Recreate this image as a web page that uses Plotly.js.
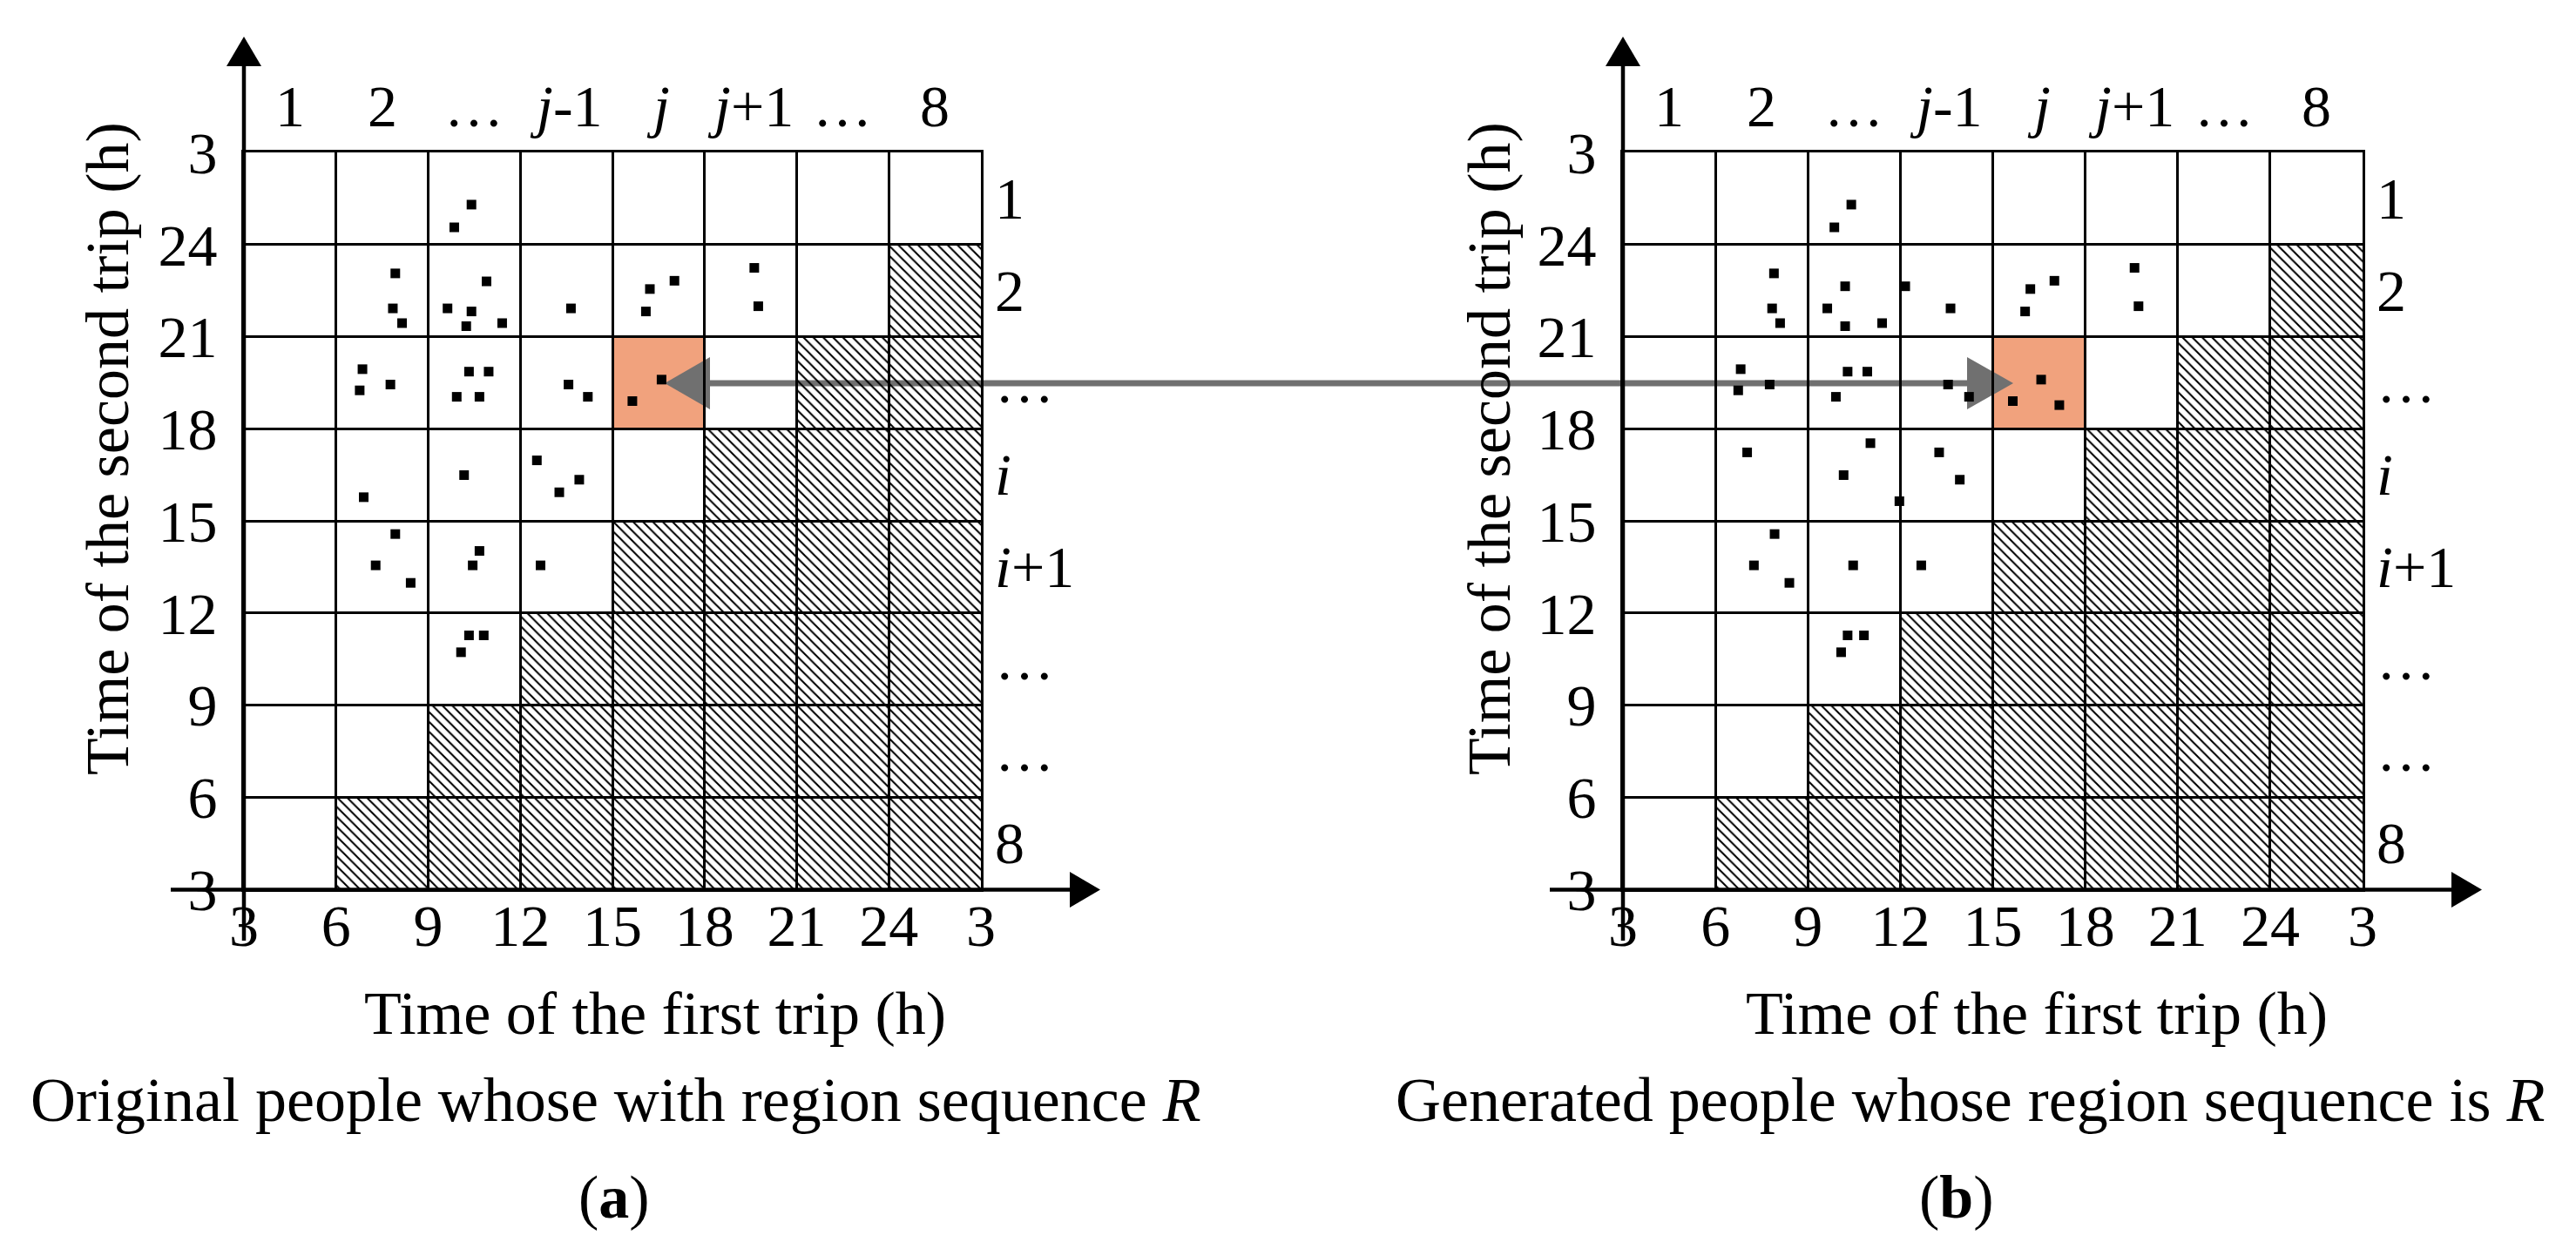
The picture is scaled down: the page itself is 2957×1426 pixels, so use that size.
<!DOCTYPE html>
<html><head><meta charset="utf-8">
<script src="https://cdn.plot.ly/plotly-3.0.1.min.js"></script>
<style>html,body{margin:0;padding:0;background:#fff;}#chart{width:2957px;height:1426px;}</style>
</head><body><div id="chart"></div>
<script>
// ---------------- data ----------------
const timeTickVals = [3, 6, 9, 12, 15, 18, 21, 24, 27];
const timeTickText = ['3', '6', '9', '12', '15', '18', '21', '24', '3'];
const regionColLabels = ['1', '2', '…', '<i>j</i>-1', '<i>j</i>', '<i>j</i>+1', '…', '8'];
const regionRowLabels = ['1', '2', '…', '<i>i</i>', '<i>i</i>+1', '…', '…', '8'];
const colStart = [3, 6, 9, 12, 15, 18, 21, 24];          // first-trip interval starts (h)
const rowStart = [24, 21, 18, 15, 12, 9, 6, 3];          // second-trip interval starts, top to bottom (h)
const hatchTop = [3, 6, 9, 12, 15, 18, 21, 24];          // infeasible region upper bound per column (h)
const highlightFirst = 15;   // column j
const highlightSecond = 18;  // row "…"

const firstTripA  = [10.41, 9.85, 7.93, 7.85, 8.15, 10.90, 9.63, 10.41, 10.24, 11.41, 13.65, 17.02, 16.22, 16.09, 19.62, 19.75,
                     6.86, 6.77, 7.77, 10.33, 10.97, 9.93, 10.67, 13.57, 14.20, 16.60, 15.65,
                     6.90, 10.17, 12.54, 13.92, 13.27, 7.93, 7.29, 8.43, 10.67, 10.45, 12.66, 10.33, 10.81, 10.07];
const secondTripA = [25.30, 24.56, 23.06, 21.92, 21.44, 22.80, 21.92, 21.82, 21.34, 21.44, 21.92, 22.82, 22.55, 21.82, 23.24, 21.99,
                     19.94, 19.25, 19.44, 19.86, 19.86, 19.04, 19.04, 19.44, 19.04, 19.60, 18.90,
                     15.77, 16.49, 16.97, 16.34, 15.93, 14.57, 13.55, 12.98, 14.02, 13.55, 13.55, 11.27, 11.27, 10.72];
const firstTripB  = [10.41, 9.86, 7.90, 7.84, 8.10, 10.21, 9.63, 10.21, 11.41, 12.16, 13.63, 17.00, 16.22, 16.05, 19.60, 19.73,
                     6.82, 6.74, 7.76, 10.29, 10.93, 9.91, 13.55, 14.23, 16.57, 15.65, 17.16,
                     7.03, 11.03, 10.16, 11.97, 13.26, 13.93, 7.92, 7.25, 8.40, 10.47, 12.68, 10.29, 10.82, 10.08];
const secondTripB = [25.30, 24.56, 23.06, 21.92, 21.44, 22.64, 21.92, 21.34, 21.44, 22.64, 21.92, 22.82, 22.55, 21.82, 23.24, 21.99,
                     19.94, 19.25, 19.44, 19.86, 19.86, 19.04, 19.44, 19.04, 19.60, 18.90, 18.77,
                     17.23, 17.53, 16.49, 15.64, 17.23, 16.34, 14.57, 13.55, 12.98, 13.55, 13.55, 11.27, 11.27, 10.72];

const xTitle = 'Time of the first trip (h)';
const yTitle = 'Time of the second trip (h)';
const captionA = 'Original people whose with region sequence <i>R</i>';
const captionB = 'Generated people whose region sequence is <i>R</i>';

// ---------------- layout helpers ----------------
const W = 2957, H = 1426;
const px = v => v / W;
const py = v => 1 - v / H;
const FONT = 'Liberation Serif, Times New Roman, serif';
const BLACK = '#000000';
const GREY = '#707070';
const ORANGE = '#F1A27D';

const gridTop = 175, gridBottom = 1021;
const panels = [
  {xa: 'x', ya: 'y', left: 280, right: 1126, first: firstTripA, second: secondTripA,
   yTitleX: 124, xTitleX: 752, caption: captionA, capX: 707, tag: '(<b>a</b>)', tagX: 705},
  {xa: 'x2', ya: 'y2', left: 1863, right: 2712, first: firstTripB, second: secondTripB,
   yTitleX: 1710, xTitleX: 2338, caption: captionB, capX: 2262, tag: '(<b>b</b>)', tagX: 2246}
];
// pixel -> data helpers for decorations drawn inside a panel
const dX = (p, v) => 3 + (v - p.left) / (p.right - p.left) * 24;
const dY = v => 27 - (v - gridTop) / (gridBottom - gridTop) * 24;

const traces = [];
const shapes = [];
const annotations = [];
const layout = {
  width: W, height: H,
  margin: {l: 0, r: 0, t: 0, b: 0},
  paper_bgcolor: '#ffffff',
  plot_bgcolor: 'rgba(0,0,0,0)',
  showlegend: false,
  font: {family: FONT, color: BLACK},
  barmode: 'overlay'
};

// grey double-headed arrow shaft (under grid and points)
shapes.push({type: 'line', xref: 'paper', yref: 'paper', layer: 'below',
  x0: px(810), x1: px(2262), y0: py(440), y1: py(440), line: {color: GREY, width: 7}});

panels.forEach((p, k) => {
  const axX = {
    domain: [px(p.left), px(p.right)], range: [3, 27], anchor: p.ya,
    tickmode: 'array', tickvals: timeTickVals, ticktext: timeTickText,
    showgrid: true, gridcolor: BLACK, gridwidth: 3, zeroline: false,
    showline: true, mirror: true, linecolor: BLACK, linewidth: 3,
    ticks: '', ticklabelstandoff: -20,
    tickfont: {family: FONT, size: 68, color: BLACK}, fixedrange: true
  };
  const axY = {
    domain: [py(gridBottom), py(gridTop)], range: [3, 27], anchor: p.xa,
    tickmode: 'array', tickvals: timeTickVals, ticktext: timeTickText,
    showgrid: true, gridcolor: BLACK, gridwidth: 3, zeroline: false,
    showline: true, mirror: true, linecolor: BLACK, linewidth: 3,
    ticks: '', ticklabelstandoff: 14,
    tickfont: {family: FONT, size: 68, color: BLACK}, fixedrange: true
  };
  layout[k === 0 ? 'xaxis' : 'xaxis2'] = axX;
  layout[k === 0 ? 'yaxis' : 'yaxis2'] = axY;

  // infeasible (hatched) region
  traces.push({
    type: 'bar', xaxis: p.xa, yaxis: p.ya,
    x: colStart.map(s => s + 1.5), y: hatchTop.map(t => t - 3), base: 3, width: 3,
    marker: {color: 'rgba(0,0,0,0)', line: {width: 0},
             pattern: {shape: '\\', fgcolor: BLACK, bgcolor: 'rgba(0,0,0,0)', size: 8, solidity: 0.26}},
    hoverinfo: 'skip'
  });
  // people
  traces.push({
    type: 'scatter', mode: 'markers', xaxis: p.xa, yaxis: p.ya,
    x: p.first, y: p.second,
    marker: {symbol: 'square', size: 11, color: BLACK, line: {width: 0}},
    cliponaxis: false, hoverinfo: 'x+y'
  });

  // highlighted cell
  shapes.push({type: 'rect', xref: p.xa, yref: p.ya, layer: 'below',
    x0: highlightFirst, x1: highlightFirst + 3, y0: highlightSecond, y1: highlightSecond + 3,
    fillcolor: ORANGE, line: {width: 0}});

  // arrow heads of the grey link (inside each panel, above the highlighted cell)
  if (k === 0) {
    shapes.push({type: 'path', xref: p.xa, yref: p.ya, layer: 'below',
      path: `M${dX(p, 763)},${dY(440)} L${dX(p, 815)},${dY(410)} L${dX(p, 815)},${dY(470)} Z`,
      fillcolor: GREY, line: {width: 0}});
  } else {
    shapes.push({type: 'path', xref: p.xa, yref: p.ya, layer: 'below',
      path: `M${dX(p, 2311)},${dY(440)} L${dX(p, 2258)},${dY(410)} L${dX(p, 2258)},${dY(470)} Z`,
      fillcolor: GREY, line: {width: 0}});
  }

  // axis arrows
  const ax = p.left;
  shapes.push({type: 'line', xref: 'paper', yref: 'paper', layer: 'above',
    x0: px(ax), x1: px(ax), y0: py(1080), y1: py(74), line: {color: BLACK, width: 4.5}});
  shapes.push({type: 'path', xref: 'paper', yref: 'paper', layer: 'above',
    path: `M${px(ax)},${py(42)} L${px(ax - 20)},${py(76)} L${px(ax + 20)},${py(76)} Z`,
    fillcolor: BLACK, line: {width: 0}});
  const xStart = ax - 84, xTip = p.right + 137;
  shapes.push({type: 'line', xref: 'paper', yref: 'paper', layer: 'above',
    x0: px(xStart), x1: px(xTip - 33), y0: py(1021.5), y1: py(1021.5), line: {color: BLACK, width: 4.5}});
  shapes.push({type: 'path', xref: 'paper', yref: 'paper', layer: 'above',
    path: `M${px(xTip)},${py(1021.5)} L${px(xTip - 35)},${py(1001)} L${px(xTip - 35)},${py(1042)} Z`,
    fillcolor: BLACK, line: {width: 0}});

  // column labels (top) and row labels (right)
  regionColLabels.forEach((t, i) => annotations.push({
    xref: p.xa, yref: 'paper', x: colStart[i] + 1.5, y: py(122), text: t, showarrow: false,
    xanchor: 'center', yanchor: 'middle', font: {family: FONT, size: 68, color: BLACK}
  }));
  regionRowLabels.forEach((t, i) => annotations.push({
    xref: 'paper', yref: p.ya, x: px(p.right + 14), y: rowStart[i] + 1.5, text: t, showarrow: false,
    xanchor: 'left', yanchor: 'middle', font: {family: FONT, size: 68, color: BLACK}
  }));

  // titles and captions
  annotations.push({xref: 'paper', yref: 'paper', x: px(p.yTitleX), y: py(515), text: yTitle, textangle: -90,
    showarrow: false, xanchor: 'center', yanchor: 'middle', font: {family: FONT, size: 70, color: BLACK}});
  annotations.push({xref: 'paper', yref: 'paper', x: px(p.xTitleX), y: py(1163), text: xTitle,
    showarrow: false, xanchor: 'center', yanchor: 'middle', font: {family: FONT, size: 70, color: BLACK}});
  annotations.push({xref: 'paper', yref: 'paper', x: px(p.capX), y: py(1263), text: p.caption,
    showarrow: false, xanchor: 'center', yanchor: 'middle', font: {family: FONT, size: 72, color: BLACK}});
  annotations.push({xref: 'paper', yref: 'paper', x: px(p.tagX), y: py(1374), text: p.tag,
    showarrow: false, xanchor: 'center', yanchor: 'middle', font: {family: FONT, size: 70, color: BLACK}});
});

layout.shapes = shapes;
layout.annotations = annotations;

Plotly.newPlot('chart', traces, layout, {staticPlot: true, displayModeBar: false});
</script>
</body></html>
